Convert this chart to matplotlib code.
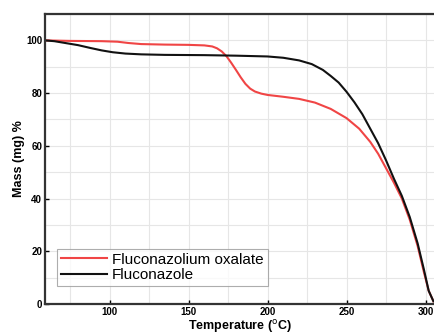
import numpy as np
import matplotlib.pyplot as plt

# TGA curves
tempOxalate = [59, 75, 95, 105, 112, 120, 135, 150, 160, 165, 168, 171, 174, 177, 180, 183, 186, 189, 192, 196, 200,
               210, 220, 230, 240, 250, 258, 265, 270, 275, 280, 285, 290, 295, 299, 302, 305]
massOxalate = [100, 99.8, 99.7, 99.5, 99.0, 98.6, 98.4, 98.3, 98.1, 97.7, 97.0, 95.8, 94.0, 91.5, 88.8, 86.0, 83.5, 81.7, 80.6, 79.8, 79.3,
               78.6, 77.8, 76.4, 74.0, 70.5, 66.5, 61.5, 57, 51.5, 46, 40, 32, 22, 12, 5, 1]
tempFluconazole = [59, 65, 72, 80, 88, 95, 102, 110, 120, 135, 160, 180, 200, 210, 220, 228, 235, 240, 245, 250,
                   255, 260, 265, 270, 275, 280, 285, 290, 295, 299, 302, 305]
massFluconazole = [100, 99.7, 99.0, 98.2, 97.1, 96.2, 95.5, 95.0, 94.7, 94.5, 94.4, 94.2, 93.9, 93.4, 92.4, 91.0, 88.8, 86.5, 84.0, 80.5,
                   76.5, 72, 66.5, 61, 54.5, 47.5, 41, 33, 23, 13, 5, 1]
labels = ['Fluconazolium oxalate', 'Fluconazole']

plt.rcParams['font.family'] = ['Liberation Sans', 'DejaVu Sans']

fig = plt.figure(figsize=(4.35, 3.34), dpi=100)
ax = fig.add_axes([0.103, 0.09, 0.897, 0.868])

ax.plot(tempOxalate, massOxalate, color='#f04545', lw=1.5, label=labels[0], solid_joinstyle='round')
ax.plot(tempFluconazole, massFluconazole, color='#111111', lw=1.5, label=labels[1], solid_joinstyle='round')

ax.set_xlim(59, 306)
ax.set_ylim(0, 110)
ax.set_xticks([100, 150, 200, 250, 300])
ax.set_xticks(np.arange(75, 306, 25), minor=True)
ax.set_yticks([0, 20, 40, 60, 80, 100])
ax.set_yticks(np.arange(10, 111, 20), minor=True)
ax.grid(True, which='both', color='#e6e6e6', lw=0.8)
ax.set_axisbelow(True)

for s in ['left', 'bottom', 'top']:
    ax.spines[s].set_linewidth(1.6)
    ax.spines[s].set_color('#333333')
ax.spines['right'].set_visible(False)

ax.tick_params(which='major', direction='in', length=3, width=1, labelsize=7, pad=2)
ax.tick_params(which='minor', length=0)
for lbl in ax.get_xticklabels() + ax.get_yticklabels():
    lbl.set_fontweight('bold')

ax.set_xlabel('Temperature ($^{\\mathrm{o}}$C)', fontsize=9, fontweight='bold', labelpad=1)
ax.set_ylabel('Mass (mg) %', fontsize=9, fontweight='bold', labelpad=1)

leg = ax.legend(loc='lower left', bbox_to_anchor=(0.012, 0.035), fontsize=11, frameon=True,
                fancybox=False, edgecolor='#999999', handlelength=3.0, borderpad=0.25,
                labelspacing=0.1, handletextpad=0.35)
leg.get_frame().set_linewidth(0.8)

fig.savefig('out.png', dpi=100)
